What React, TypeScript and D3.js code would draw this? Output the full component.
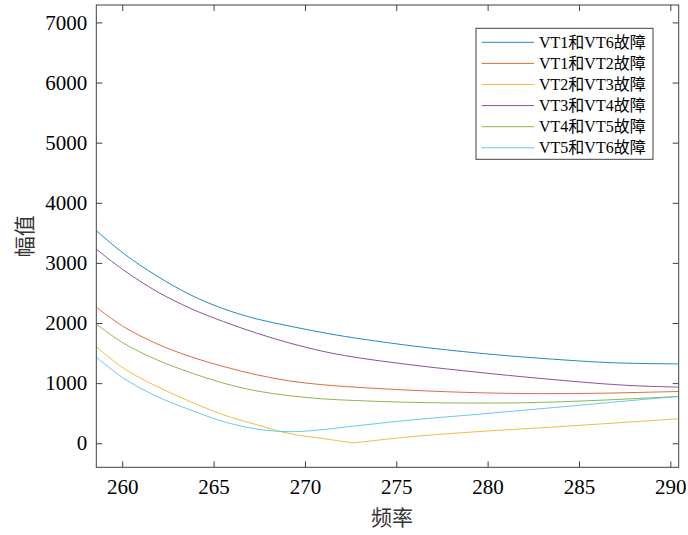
import { useRef, useEffect } from "react";
import * as d3 from "d3";

// frequency grid (x) shared by all series
const freq = [
  258.58, 260.06, 261.9, 263.71, 265.53, 267.36, 269.18, 270.9, 272.65, 275.93, 279.58, 282.69, 286.34,
  288.2, 290.44,
];

const seriesNames = [
  "VT1和VT6故障",
  "VT1和VT2故障",
  "VT2和VT3故障",
  "VT3和VT4故障",
  "VT4和VT5故障",
  "VT5和VT6故障",
];

const vt16 = [3538, 3160, 2782, 2472, 2238, 2068, 1948, 1845, 1755, 1618, 1497, 1418, 1346, 1328, 1320];
const vt12 = [2264, 1942, 1654, 1443, 1277, 1139, 1035, 975, 935, 880, 840, 826, 833, 845, 861];
const vt23 = [1609, 1250, 944, 695, 474, 308, 158, 82, 5, 113, 196, 253, 324, 362, 407];
const vt34 = [3228, 2884, 2524, 2247, 2025, 1832, 1665, 1535, 1435, 1300, 1177, 1084, 989, 955, 934];
const vt45 = [1982, 1666, 1388, 1177, 1001, 870, 790, 740, 712, 680, 668, 678, 718, 745, 778];
const vt56 = [1433, 1084, 778, 557, 362, 236, 192, 225, 285, 390, 485, 569, 668, 720, 778];

const seriesValues = [vt16, vt12, vt23, vt34, vt45, vt56];
const colors = ["#0072BD", "#D95319", "#EDB120", "#7E2F8E", "#77AC30", "#4DBEEE"];

const xTicks = [260, 265, 270, 275, 280, 285, 290];
const yTicks = [0, 1000, 2000, 3000, 4000, 5000, 6000, 7000];

const xLabel = "频率";
const yLabel = "幅值";

const numFont = "'Liberation Serif', 'Times New Roman', 'Noto Sans CJK SC', serif";
const cjkFont = "'Noto Sans CJK SC', sans-serif";

export default function App() {
  const ref = useRef<SVGSVGElement>(null);

  useEffect(() => {
    if (!ref.current) return;
    const svg = d3.select(ref.current);
    svg.selectAll("*").remove();

    const left = 96.3,
      right = 678.7,
      top = 5,
      bottom = 467.3;

    const x = d3.scaleLinear([258.58, 290.46], [left, right]);
    const y = d3.scaleLinear([-400, 7290], [bottom, top]);
    const axisColor = "#404040";

    // lines
    const line = d3
      .line<[number, number]>()
      .x((d) => x(d[0]))
      .y((d) => y(d[1]))
      .curve(d3.curveCatmullRom.alpha(0.5));

    const g = svg.append("g");
    seriesValues.forEach((vals, i) => {
      const pts: [number, number][] = freq.map((f, j) => [f, vals[j]]);
      // split at the sharp minimum (near zero) so the kink stays sharp
      const minIdx = d3.minIndex(vals);
      const pieces =
        minIdx > 0 && minIdx < vals.length - 1 && vals[minIdx] < 50
          ? [pts.slice(0, minIdx + 1), pts.slice(minIdx)]
          : [pts];
      pieces.forEach((p) => {
        g.append("path")
          .attr("d", line(p))
          .attr("fill", "none")
          .attr("stroke", colors[i])
          .attr("stroke-opacity", 0.85)
          .attr("stroke-width", 1);
      });
    });

    // axes with inward ticks
    const styleAxis = (sel: any) => {
      sel.select(".domain").remove();
      sel.selectAll(".tick line").attr("stroke", axisColor);
      sel
        .selectAll(".tick text")
        .attr("fill", "#000")
        .attr("font-family", numFont)
        .attr("font-size", 21);
    };

    svg
      .append("g")
      .attr("transform", `translate(0,${bottom})`)
      .call(d3.axisBottom(x).tickValues(xTicks).tickFormat(d3.format("d")).tickSize(-6).tickPadding(12))
      .call(styleAxis);
    svg
      .append("g")
      .attr("transform", `translate(0,${top})`)
      .call(d3.axisTop(x).tickValues(xTicks).tickFormat(() => "").tickSize(-6))
      .call(styleAxis);
    svg
      .append("g")
      .attr("transform", `translate(${left},0)`)
      .call(d3.axisLeft(y).tickValues(yTicks).tickFormat(d3.format("d")).tickSize(-6).tickPadding(9))
      .call(styleAxis);
    svg
      .append("g")
      .attr("transform", `translate(${right},0)`)
      .call(d3.axisRight(y).tickValues(yTicks).tickFormat(() => "").tickSize(-6))
      .call(styleAxis);

    svg
      .append("rect")
      .attr("x", left)
      .attr("y", top)
      .attr("width", right - left)
      .attr("height", bottom - top)
      .attr("fill", "none")
      .attr("stroke", axisColor)
      .attr("stroke-width", 1);

    // axis labels
    svg
      .append("text")
      .attr("x", 392)
      .attr("y", 516)
      .attr("text-anchor", "middle")
      .attr("dominant-baseline", "central")
      .attr("font-family", cjkFont)
      .attr("font-size", 21)
      .attr("fill", "#333")
      .text(xLabel);
    svg
      .append("text")
      .attr("transform", `translate(22.5,${(top + bottom) / 2}) rotate(-90)`)
      .attr("text-anchor", "middle")
      .attr("dominant-baseline", "central")
      .attr("font-family", cjkFont)
      .attr("font-size", 21)
      .attr("fill", "#333")
      .text(yLabel);

    // legend
    const leg = svg.append("g");
    leg
      .append("rect")
      .attr("x", 476)
      .attr("y", 28.3)
      .attr("width", 177)
      .attr("height", 131)
      .attr("fill", "#fff")
      .attr("stroke", axisColor)
      .attr("stroke-width", 1);
    seriesNames.forEach((name, i) => {
      const cy = 42.3 + i * 21.1;
      leg
        .append("line")
        .attr("x1", 481.7)
        .attr("x2", 534)
        .attr("y1", cy)
        .attr("y2", cy)
        .attr("stroke", colors[i])
        .attr("stroke-opacity", 0.85)
        .attr("stroke-width", 1);
      leg
        .append("text")
        .attr("x", 539)
        .attr("y", cy)
        .attr("dominant-baseline", "central")
        .attr("font-family", numFont)
        .attr("font-size", 16)
        .attr("fill", "#000")
        .text(name);
    });
  }, []);

  return (
    <svg
      ref={ref}
      width={688}
      height={535}
      style={{ position: "absolute", left: 0, top: 0, background: "#fff" }}
    />
  );
}
